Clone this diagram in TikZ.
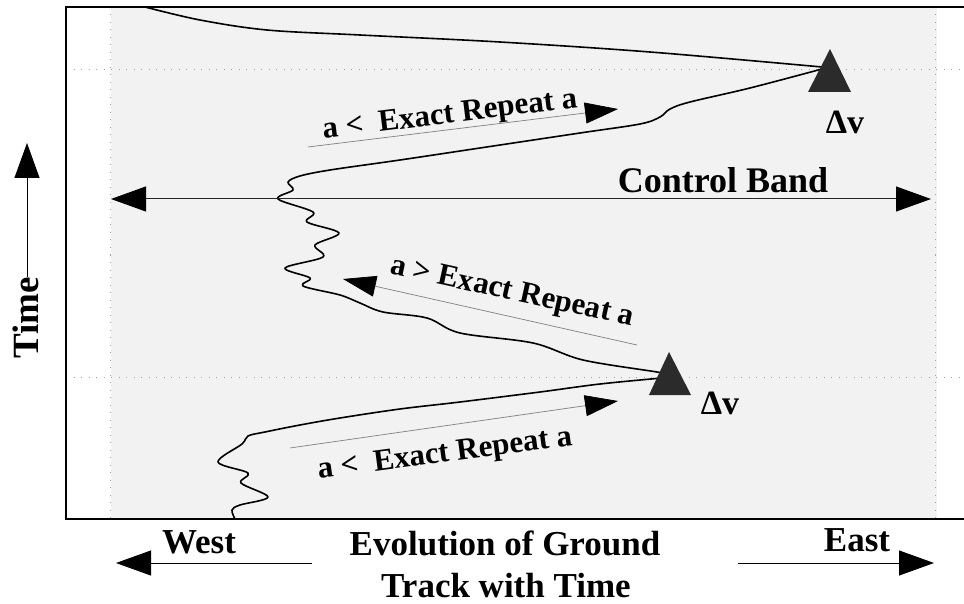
\documentclass[tikz,border=0pt]{standalone}
\usepackage{fontspec}
\setmainfont{Liberation Serif}
\usetikzlibrary{arrows.meta}
\definecolor{bandgray}{HTML}{F2F2F2}
\definecolor{tridark}{HTML}{2B2B2B}
\definecolor{dotgray}{HTML}{A0A0A0}
\definecolor{thingray}{HTML}{808080}
\begin{document}
\begin{tikzpicture}[x=1pt,y=-1pt,
  frameline/.style={line width=2pt,black},
  dotline/.style={dotgray,line width=1pt,dash pattern=on 1pt off 6.5pt},
  track/.style={line width=1.6pt,black,line join=round},
  lbl/.style={font=\bfseries\fontsize{31}{36}\selectfont,inner sep=0pt},
  biglbl/.style={font=\bfseries\fontsize{36}{40}\selectfont,inner sep=0pt},
  btmlbl/.style={font=\bfseries\fontsize{35}{40}\selectfont,inner sep=0pt},
  dvlbl/.style={font=\bfseries\fontsize{34}{38}\selectfont,inner sep=0pt},
  thinarrow/.style={thingray,line width=0.7pt,-{Triangle[length=33pt,width=21pt,color=black]}},
  bigarrow/.style={line width=1pt,black,-{Triangle[length=35pt,width=25pt]}},
  bothbig/.style={line width=1pt,black!85,{Triangle[length=35pt,width=25pt,color=black]}-{Triangle[length=35pt,width=25pt,color=black]}},
  tri/.style={fill=tridark}]
\useasboundingbox (0,0) rectangle (964,604);
% shaded band
\fill[bandgray] (111,7) rectangle (937,519);
% dotted guides
\draw[dotline] (66,70) -- (964,70);
\draw[dotline] (66,377) -- (964,377);
\draw[dotline] (110,7) -- (110,519);
\draw[dotline] (935,7) -- (935,519);
% frame (open at the right edge)
\draw[frameline] (970,7) -- (66,7) -- (66,519) -- (970,519);
% ground track
\draw[track] plot[smooth,tension=0.55] coordinates {(145,7) (200,20) (267,30) (360,35) (500,42) (650,52) (822,67)};
\draw[track] plot[smooth,tension=0.55] coordinates {(822,69) (750,88) (690,102) (670,109) (660,117) (640,124) (580,133) (480,148) (400,160) (330,170) (300,176) (288,182) (293,190) (278,199) (313,212) (307,222) (339,233) (315,245) (323,257) (285,268) (310,278) (303,286) (340,295) (360,303) (383,312) (427,318) (460,333) (533,343) (583,360) (657,372) (664,374)};
\draw[track] plot[smooth,tension=0.55] coordinates {(662,378) (600,384) (540,392) (460,402) (400,409) (340,418) (300,425) (265,432) (248,436) (242,444) (218,462) (248,473) (241,483) (268,497) (240,505) (232,510) (235,519)};
% control band
\coordinate (cbL) at (111,199);
\coordinate (cbR) at (931,199);
\draw[bothbig] (cbL) -- (cbR);
\node[biglbl,anchor=base] (cb) at (723,193) {Control Band};
% direction arrows with labels
\coordinate (a1s) at (308,147);
\coordinate (a1e) at (618,109);
\draw[thinarrow] (a1s) -- (a1e);
\node[lbl,rotate=7] (l1) at (450,116) {a <\ \ Exact Repeat a};
\coordinate (a2s) at (637,345);
\coordinate (a2e) at (343,279);
\draw[thinarrow] (a2s) -- (a2e);
\node[lbl,rotate=-12.3] (l2) at (512,293) {a > Exact Repeat a};
\coordinate (a3s) at (290,448);
\coordinate (a3e) at (618,401);
\draw[thinarrow] (a3s) -- (a3e);
\node[lbl,rotate=7.5] (l3) at (445,455) {a <\ \ Exact Repeat a};
% delta-v manoeuvres
\fill[tri] (830,49) -- (851,92) -- (808,92) -- cycle;
\node[dvlbl] (dv1) at (845,122) {Δv};
\fill[tri] (669,352) -- (691,395) -- (649,395) -- cycle;
\node[dvlbl] (dv2) at (720,403) {Δv};
% time axis
\coordinate (tS) at (27,277);
\coordinate (tE) at (27,143);
\draw[bigarrow] (tS) -- (tE);
\node[biglbl,rotate=90,anchor=base,font=\bfseries\fontsize{37}{40}\selectfont] (time) at (38,318) {Time};
% bottom labels
\coordinate (wS) at (312,563);
\coordinate (wE) at (116,563);
\draw[bigarrow] (wS) -- (wE);
\coordinate (eS) at (738,563);
\coordinate (eE) at (934,563);
\draw[bigarrow] (eS) -- (eE);
\node[btmlbl,anchor=base] (west) at (199,553) {West};
\node[btmlbl,anchor=base] (east) at (857,551) {East};
\node[btmlbl,anchor=base] (evo1) at (505,555) {Evolution of Ground};
\node[btmlbl,anchor=base] (evo2) at (506,597) {Track with Time};
\end{tikzpicture}
\end{document}
